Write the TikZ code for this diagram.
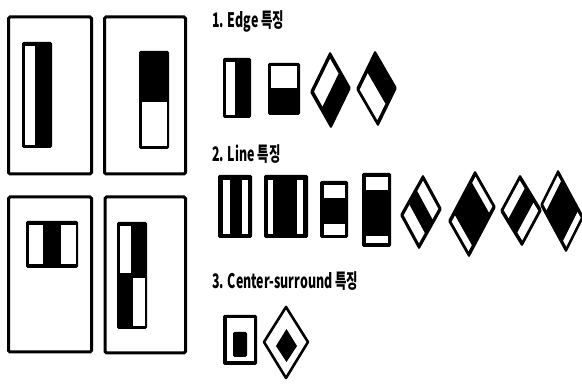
\documentclass[tikz,border=0pt]{standalone}
\usepackage{fontspec}
\newfontfamily\krfont{Noto Sans CJK KR}

\tikzset{
  frame/.style={line width=3pt, rounded corners=1.5pt},
  feat/.style={fill=black, rounded corners=1.5pt},
  hole/.style={fill=white},
  title/.style={anchor=west, inner sep=0pt, xscale=0.62,
    font=\krfont\bfseries\fontsize{20}{20}\selectfont},
}

\begin{document}
\begin{tikzpicture}[x=1pt,y=1pt,yscale=-1,xscale=1]
\path[use as bounding box] (0,0) rectangle (582,387);

%Big frames, left half
\draw[frame] (8.5,17) rectangle (91.5,174);
\draw[frame] (104.5,17) rectangle (185.5,174);
\draw[frame] (8.5,197) rectangle (91.5,352);
\draw[frame] (105,197) rectangle (185.5,353);

%Features inside the frames
\fill[feat] (22,42) rectangle (52,148);
\fill[hole] (24.5,46) rectangle (35,145);
\fill[feat] (139,51) rectangle (169,149);
\fill[hole] (142,102) rectangle (166.5,146.5);
\fill[feat] (26,221) rectangle (78,268);
\fill[hole] (28.5,225) rectangle (42.5,264);
\fill[hole] (61,225) rectangle (76,264);
\fill[feat] (117,222) rectangle (147,329);
\fill[hole] (120,226) rectangle (130.5,273);
\fill[hole] (133,278) rectangle (145,326);

% Text Node
\node[title] (edge) at (212,21) {1. Edge 특징};

%Edge features
\fill[feat] (223,58) rectangle (251,118);
\fill[hole] (226,62) rectangle (234.5,115);
\fill[feat] (268,63) rectangle (300,115);
\fill[hole] (271,66.5) rectangle (297,88);
\begin{scope}[shift={(310,92)}, x={(20pt,-41pt)}, y={(21pt,37pt)}]
  \fill[feat] (0,0) -- (1,0) -- (1,1) -- (0,1) -- cycle;
  \fill[hole] (0.1,0.1) -- (0.9,0.1) -- (0.9,0.5) -- (0.1,0.5) -- cycle;
\end{scope}
\begin{scope}[shift={(356,89)}, x={(19pt,-39pt)}, y={(22pt,38pt)}]
  \fill[feat] (0,0) -- (1,0) -- (1,1) -- (0,1) -- cycle;
  \fill[hole] (0.08,0.1) -- (0.5,0.1) -- (0.5,0.9) -- (0.08,0.9) -- cycle;
\end{scope}

% Text Node
\node[title] (line) at (212,154) {2. Line 특징};

%Line features
\fill[feat] (218,175) rectangle (252,238);
\fill[hole] (223,180) rectangle (230,234);
\fill[hole] (242,180) rectangle (248,234);
\fill[feat] (264,175) rectangle (308,238);
\fill[hole] (268,180) rectangle (273,234);
\fill[hole] (297,180) rectangle (303,234);
\fill[feat] (320,181) rectangle (348,238);
\fill[hole] (323.5,185) rectangle (345,198);
\fill[hole] (323.5,224) rectangle (345,235);
\fill[feat] (362,173) rectangle (391,247);
\fill[hole] (365.5,177.5) rectangle (387.5,190);
\fill[hole] (365.5,236) rectangle (387.5,243.5);
\begin{scope}[shift={(400,215)}, x={(23pt,-41pt)}, y={(19pt,35pt)}]
  \fill[feat] (0,0) -- (1,0) -- (1,1) -- (0,1) -- cycle;
  \fill[hole] (0.08,0.1) -- (0.33,0.1) -- (0.33,0.9) -- (0.08,0.9) -- cycle;
  \fill[hole] (0.67,0.1) -- (0.92,0.1) -- (0.92,0.9) -- (0.67,0.9) -- cycle;
\end{scope}
\begin{scope}[shift={(448,221)}, x={(27pt,-51pt)}, y={(21pt,37pt)}]
  \fill[feat] (0,0) -- (1,0) -- (1,1) -- (0,1) -- cycle;
  \fill[hole] (0.06,0.1) -- (0.18,0.1) -- (0.18,0.9) -- (0.06,0.9) -- cycle;
  \fill[hole] (0.82,0.1) -- (0.94,0.1) -- (0.94,0.9) -- (0.82,0.9) -- cycle;
\end{scope}
\begin{scope}[shift={(500,211)}, x={(20pt,-37pt)}, y={(22pt,36pt)}]
  \fill[feat] (0,0) -- (1,0) -- (1,1) -- (0,1) -- cycle;
  \fill[hole] (0.1,0.08) -- (0.9,0.08) -- (0.9,0.3) -- (0.1,0.3) -- cycle;
  \fill[hole] (0.1,0.7) -- (0.9,0.7) -- (0.9,0.92) -- (0.1,0.92) -- cycle;
\end{scope}
\begin{scope}[shift={(540,205)}, x={(18pt,-36pt)}, y={(26pt,48pt)}]
  \fill[feat] (0,0) -- (1,0) -- (1,1) -- (0,1) -- cycle;
  \fill[hole] (0.1,0.06) -- (0.9,0.06) -- (0.9,0.18) -- (0.1,0.18) -- cycle;
  \fill[hole] (0.1,0.82) -- (0.9,0.82) -- (0.9,0.94) -- (0.1,0.94) -- cycle;
\end{scope}

% Text Node
\node[title] (csur) at (212,281) {3. Center-surround 특징};

%Center-surround features
\fill[feat] (223,315) rectangle (257,365);
\fill[hole] (227,318.5) rectangle (253.5,361.5);
\fill[feat] (233,332) rectangle (247,357);
\draw[line width=2.6pt, line join=round, fill=white]
  (286,307) -- (308,342) -- (286,378) -- (264,342) -- cycle;
\fill (286.5,329) -- (297,346) -- (286.5,362) -- (276,346) -- cycle;
\end{tikzpicture}
\end{document}
